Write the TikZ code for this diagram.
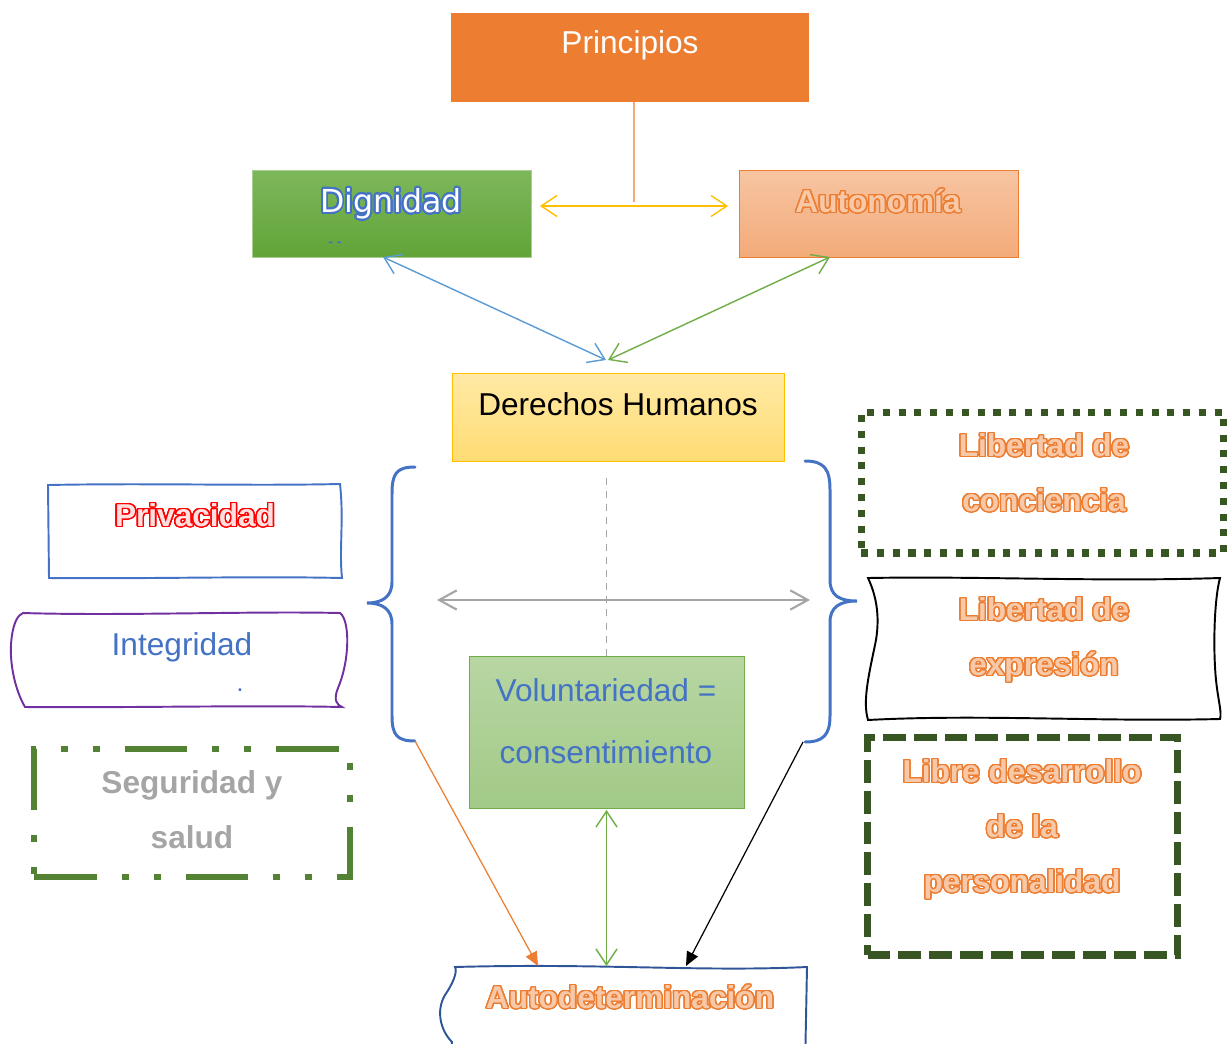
\documentclass[tikz,border=0pt]{standalone}
\usepackage{fontspec}
\setmainfont{Liberation Sans}
\newfontfamily\dejavu{DejaVu Sans}
\usepackage[copies]{contour}
\usepackage{tikz}
\usetikzlibrary{arrows.meta}
\definecolor{naranja}{HTML}{ED7D31}
\definecolor{durazno}{HTML}{F8C9A9}
\definecolor{azul}{HTML}{4472C4}
\definecolor{azulosc}{HTML}{2F5597}
\definecolor{celeste}{HTML}{5B9BD5}
\definecolor{verde}{HTML}{70AD47}
\definecolor{verdearr}{HTML}{7DB75B}
\definecolor{verdeaba}{HTML}{62A438}
\definecolor{verdeosc}{HTML}{375623}
\definecolor{verdemed}{HTML}{548235}
\definecolor{amarillo}{HTML}{FFC000}
\definecolor{gris}{HTML}{A5A5A5}
\definecolor{morado}{HTML}{7030A0}
\contourlength{0.8pt}
\contournumber{32}
\newcommand{\hueco}[1]{\contour{naranja}{\textcolor{durazno}{#1}}}

\tikzset{
  box/.style={rectangle, inner sep=0pt, outer sep=0pt},
  lbl/.style={inner sep=0pt, text height=13pt, text depth=0pt,
    font=\fontsize{18}{22}\selectfont},
  negrita/.style={lbl, font=\fontsize{18}{22}\selectfont\bfseries},
  flecha/.style={line width=0.8pt,
    {Straight Barb[length=9pt,width=12pt]}-{Straight Barb[length=9pt,width=12pt]}},
  punta/.style={line width=0.7pt, -{Triangle[length=8pt,width=7pt]}},
  llave/.style={azul, line width=1.7pt, line cap=round},
}

\begin{document}
\begin{tikzpicture}[x=0.02cm, y=-0.02cm]
  \useasboundingbox (0,0) rectangle (1227,1044);

  % cajas de arriba
  \node[box, fill=naranja, draw=naranja, minimum width=7.14cm, minimum height=1.76cm] (princ) at (629.5,57) {};
  \node[box, top color=verdearr, bottom color=verdeaba, draw=verde!60,
    minimum width=5.58cm, minimum height=1.74cm] (dign) at (391.5,213.5) {};
  \node[box, top color=naranja!45, bottom color=naranja!65, draw=naranja,
    minimum width=5.58cm, minimum height=1.74cm] (auton) at (878.5,213.5) {};
  \node[box, top color=amarillo!35, bottom color=amarillo!55, draw=amarillo,
    minimum width=6.64cm, minimum height=1.76cm] (derechos) at (618,417) {};
  \node[box, top color=verde!50, bottom color=verde!65, draw=verde,
    minimum width=5.5cm, minimum height=3.04cm] (volunt) at (606.5,732) {};

  \node[lbl, text=white] (t-princ) at (630,42) {Principios};
  \node[lbl, font=\fontsize{18}{22}\selectfont\dejavu] (t-dign) at (391,201)
    {\contourlength{1pt}\contour{azul}{\textcolor{white}{Dignidad}}};
  \node[inner sep=0pt, text=azul, font=\footnotesize\bfseries] (t-dign2) at (335,244) {- -};
  \node[negrita] (t-auton) at (878,201) {\hueco{Autonomía}};
  \node[lbl] (t-derechos) at (618,404) {Derechos Humanos};
  \node[lbl, text=azul] (t-volunt-a) at (606,690) {Voluntariedad =};
  \node[lbl, text=azul] (t-volunt-b) at (606,752) {consentimiento};

  % cajas de la izquierda
  \node[box, minimum width=5.9cm, minimum height=1.88cm] (priv) at (195.5,531) {};
  \draw[azul, line width=1.1pt] (48,485) .. controls (150,483) and (250,486) .. (340,484)
    .. controls (344,520) and (339,550) .. (342,578)
    .. controls (250,576) and (150,579) .. (49,578) -- cycle;
  \node[negrita] (t-priv) at (195,515) {\contour{red}{\textcolor{red!12}{Privacidad}}};

  \node[box, minimum width=6.72cm, minimum height=1.9cm] (integ) at (180,659.5) {};
  \draw[morado, line width=1.1pt] (23,613) .. controls (120,616) and (250,611) .. (340,613)
    .. controls (350,620) and (350,660) .. (338,688)
    .. controls (333,700) and (337,705) .. (342,707)
    .. controls (250,705) and (120,708) .. (25,707)
    .. controls (15,690) and (8,660) .. (12,635)
    .. controls (14,622) and (18,615) .. (23,613) -- cycle;
  \node[lbl, text=azul] (t-integ) at (182,644) {Integridad};
  \node[inner sep=0pt, text=azul, font=\normalsize\bfseries] (t-integ2) at (240,690) {.};

  \node[box, draw=verdemed, line width=3.4pt,
    dash pattern=on 35.7pt off 14.2pt on 4pt off 14.2pt on 4pt off 14.2pt,
    minimum width=6.32cm, minimum height=2.56cm] (segur) at (192,813) {};
  \node[negrita, text=gris] (t-segur-a) at (192,782) {Seguridad y};
  \node[negrita, text=gris] (t-segur-b) at (192,837) {salud};

  % cajas de la derecha
  \node[box, draw=verdeosc, line width=4pt, dash pattern=on 4pt off 5pt,
    minimum width=7.26cm, minimum height=2.82cm] (concien) at (1042.5,482.5) {};
  \node[negrita] (t-concien-a) at (1044,445) {\hueco{Libertad de}};
  \node[negrita] (t-concien-b) at (1044,500) {\hueco{conciencia}};

  \node[box, minimum width=7.1cm, minimum height=2.84cm] (expres) at (1043,649) {};
  \draw[black, line width=1.1pt] (868,578) .. controls (980,576) and (1100,582) .. (1220,578)
    .. controls (1214,600) and (1213,650) .. (1216,680)
    .. controls (1218,700) and (1222,712) .. (1220,719)
    .. controls (1100,722) and (980,714) .. (868,720)
    .. controls (862,700) and (870,670) .. (876,640)
    .. controls (880,615) and (876,595) .. (868,578) -- cycle;
  \node[negrita] (t-expres-a) at (1044,609) {\hueco{Libertad de}};
  \node[negrita] (t-expres-b) at (1044,664) {\hueco{expresión}};

  \node[box, draw=verdeosc, line width=4pt, dash pattern=on 13pt off 4.5pt,
    minimum width=6.2cm, minimum height=4.36cm] (libre) at (1022.5,846) {};
  \node[negrita] (t-libre-a) at (1022,771) {\hueco{Libre desarrollo}};
  \node[negrita] (t-libre-b) at (1022,826) {\hueco{de la}};
  \node[negrita] (t-libre-c) at (1022,881) {\hueco{personalidad}};

  % caja de abajo
  \node[box, minimum width=7.34cm, minimum height=1.6cm] (autod) at (624.5,1006) {};
  \draw[azulosc, line width=1.1pt] (455,967) .. controls (600,963) and (700,972) .. (807,967)
    -- (805,1070) -- (450,1070) -- (452,1042)
    .. controls (440,1030) and (436,1010) .. (445,995)
    .. controls (452,985) and (458,972) .. (455,967) -- cycle;
  \node[negrita] (t-autod) at (630,997) {\hueco{Autodeterminación}};

  % llaves
  \draw[llave] (415,467) .. controls (396,467) and (392,474) .. (392,494) -- (392,582)
    .. controls (392,597) and (382,603) .. (367,603)
    .. controls (382,603) and (392,609) .. (392,624) -- (392,716)
    .. controls (392,735) and (397,741) .. (415,741);
  \draw[llave] (805,461) .. controls (825,461) and (830,470) .. (830,490) -- (830,580)
    .. controls (830,596) and (840,601) .. (857,601)
    .. controls (840,601) and (830,607) .. (830,622) -- (830,716)
    .. controls (830,735) and (823,742) .. (805,742);
  \coordinate (llave-izq) at (415,741);
  \coordinate (llave-der) at (803,742);
  \coordinate (gizq) at (437,600);
  \coordinate (gder) at (810,600);
  \coordinate (cruce) at (634,202);

  % conectores
  \draw[naranja, line width=0.7pt] ([xshift=0.09cm]princ.south) -- (cruce);
  \draw[flecha, amarillo, shorten <=0.18cm, shorten >=0.22cm] ([yshift=0.15cm]dign.east) -- ([yshift=0.15cm]auton.west);
  \draw[flecha, celeste] ([xshift=-0.17cm]dign.south) -- ([xshift=-0.24cm, yshift=0.26cm]derechos.north);
  \draw[flecha, verde] ([xshift=-0.97cm]auton.south) -- ([xshift=-0.2cm, yshift=0.26cm]derechos.north);
  \draw[gris, line width=1.1pt, dash pattern=on 4pt off 3.5pt] (volunt.north) -- ++(0,-184);
  \draw[gris, line width=1.2pt,
    {Straight Barb[length=10pt,width=11pt]}-{Straight Barb[length=10pt,width=11pt]}] (gizq) -- (gder);
  \draw[flecha, verde] ([yshift=-0.04cm]volunt.south) -- (volunt.south |- autod.north);
  \draw[punta, naranja] (llave-izq) -- ([xshift=-1.73cm]autod.north);
  \draw[punta, black] (llave-der) -- ([xshift=1.23cm]autod.north);
\end{tikzpicture}
\end{document}
